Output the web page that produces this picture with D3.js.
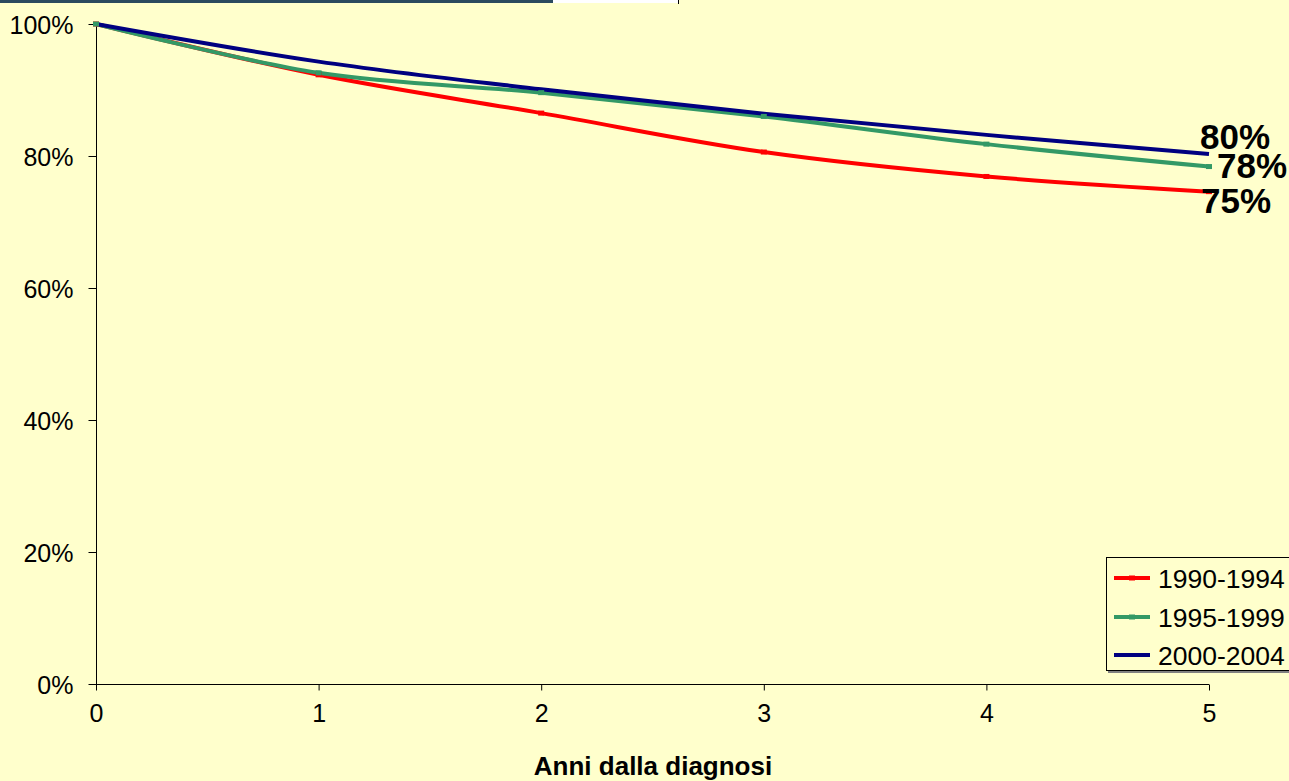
<!DOCTYPE html>
<html><head><meta charset="utf-8">
<script src="https://cdn.jsdelivr.net/npm/d3@7"></script>
<style>
html,body{margin:0;padding:0;background:#FFFFCC;}
svg{display:block;font-family:Arial,"Liberation Sans",sans-serif;}
</style></head>
<body>
<script>
const years = [0, 1, 2, 3, 4, 5];
const seriesNames = ["1990-1994", "1995-1999", "2000-2004"];
const s1990 = [100, 92.3, 86.5, 80.6, 76.9, 74.6];
const s1995 = [100, 92.6, 89.6, 86.0, 81.8, 78.4];
const s2000 = [100, 94.3, 90.1, 86.4, 83.2, 80.3];
const endLabels = ["75%", "78%", "80%"];
const yTicks = [0, 20, 40, 60, 80, 100];
const xTitle = "Anni dalla diagnosi";

const colors = ["#FF0000", "#339966", "#000080"];
const values = [s1990, s1995, s2000];
const hasMarker = [true, true, false];

const W = 1289, H = 781;
const svg = d3.select("body").append("svg").attr("width", W).attr("height", H);
svg.append("rect").attr("width", W).attr("height", H).attr("fill", "#FFFFCC");
// top decoration
svg.append("rect").attr("x", 0).attr("y", 0).attr("width", 553).attr("height", 3).attr("fill", "#2B4A5E");
svg.append("rect").attr("x", 553).attr("y", 0).attr("width", 125).attr("height", 3).attr("fill", "#FFFFFF");
svg.append("line").attr("x1", 678.5).attr("x2", 678.5).attr("y1", 0).attr("y2", 4).attr("stroke", "#000");

const x = d3.scaleLinear().domain([0, 5]).range([96, 1209]);
const y = d3.scaleLinear().domain([0, 100]).range([684, 24]);

// axes
const yAxis = d3.axisLeft(y).tickValues(yTicks).tickSize(8).tickPadding(15).tickFormat(d => d + "%");
const gy = svg.append("g").attr("transform", "translate(96.5,0)").call(yAxis);
gy.select(".domain").attr("stroke", "#000").attr("d", "M0," + y(100) + "V" + y(0));
gy.selectAll(".tick line").attr("stroke", "#000");
gy.selectAll(".tick text").attr("font-size", 25).attr("fill", "#000").attr("font-family", "Arial, 'Liberation Sans', sans-serif").attr("dy", "0.36em");

const xAxis = d3.axisBottom(x).tickValues(years).tickSize(6).tickPadding(14).tickFormat(d3.format("d"));
const gx = svg.append("g").attr("transform", "translate(0,684.5)").call(xAxis);
gx.select(".domain").attr("stroke", "#000").attr("d", "M" + x(0) + ",0H" + x(5));
gx.selectAll(".tick line").attr("stroke", "#000");
gx.selectAll(".tick text").attr("font-size", 25).attr("fill", "#000").attr("font-family", "Arial, 'Liberation Sans', sans-serif").attr("dy", "0.71em");

// lines
const line = d3.line().x((d, i) => x(years[i])).y(d => y(d)).curve(d3.curveCatmullRom.alpha(0));
values.forEach((vals, k) => {
  svg.append("path").datum(vals).attr("d", line).attr("fill", "none")
    .attr("stroke", colors[k]).attr("stroke-width", 4).attr("stroke-linejoin", "round");
});
values.forEach((vals, k) => {
  if (!hasMarker[k]) return;
  svg.append("g").selectAll("rect").data(vals).join("rect")
    .attr("x", (d, i) => x(years[i]) - 3).attr("y", d => y(d) - 2.5)
    .attr("width", 6).attr("height", 5).attr("fill", colors[k]);
});

// end labels
const lblPos = [{dx: -8, dy: 21}, {dx: 8, dy: 11}, {dx: -9, dy: -5}];
values.forEach((vals, k) => {
  svg.append("text").attr("x", x(5) + lblPos[k].dx).attr("y", y(vals[5]) + lblPos[k].dy)
    .attr("font-size", 35).attr("font-weight", "bold").attr("fill", "#000").text(endLabels[k]);
});

// x title
svg.append("text").attr("x", 653).attr("y", 775).attr("text-anchor", "middle")
  .attr("font-size", 26).attr("font-weight", "bold").attr("fill", "#000").text(xTitle);

// legend
const lg = svg.append("g");
lg.append("rect").attr("x", 1108).attr("y", 559).attr("width", 200).attr("height", 114).attr("fill", "#808080");
lg.append("rect").attr("x", 1106.5).attr("y", 557.5).attr("width", 200).attr("height", 113).attr("fill", "#FFFFCC").attr("stroke", "#000");
const legY = [578, 617, 655];
seriesNames.forEach((n, k) => {
  lg.append("line").attr("x1", 1114).attr("x2", 1150).attr("y1", legY[k]).attr("y2", legY[k])
    .attr("stroke", colors[k]).attr("stroke-width", 4);
  if (hasMarker[k]) lg.append("rect").attr("x", 1129).attr("y", legY[k] - 2.5).attr("width", 6).attr("height", 5).attr("fill", colors[k]);
  lg.append("text").attr("x", 1158).attr("y", legY[k] + 9.5).attr("font-size", 26.5).attr("fill", "#000").text(n);
});
</script>
</body></html>
